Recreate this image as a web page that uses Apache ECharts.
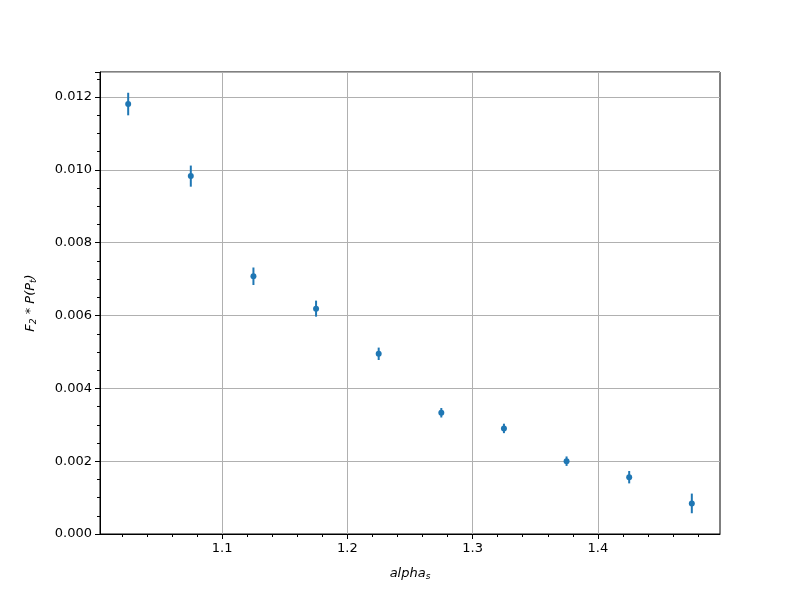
<!DOCTYPE html>
<html><head><meta charset="utf-8">
<script src="https://cdn.jsdelivr.net/npm/echarts@6/dist/echarts.min.js"></script>
<style>html,body{margin:0;padding:0;background:#fff}#c{width:800px;height:600px}</style>
</head><body><div id="c"></div>
<script>
const xValues = [1.025, 1.075, 1.125, 1.175, 1.225, 1.275, 1.325, 1.375, 1.425, 1.475];
const yValues = [0.01181, 0.00983, 0.00708, 0.00619, 0.00495, 0.00333, 0.00290, 0.00200, 0.00156, 0.00084];
const yErrors = [0.00031, 0.00029, 0.00024, 0.00022, 0.00017, 0.00013, 0.00013, 0.00013, 0.00017, 0.00027];
const xMajorTicks = [1.1, 1.2, 1.3, 1.4];
const xMinorTicks = [1.02, 1.04, 1.06, 1.08, 1.12, 1.14, 1.16, 1.18, 1.22, 1.24, 1.26, 1.28, 1.32, 1.34, 1.36, 1.38, 1.42, 1.44, 1.46, 1.48];
const xMin = 1.0025, xMax = 1.4975;
const yMin = 0, yMax = 0.01269;

const pts = xValues.map((x, i) => [x, yValues[i], yErrors[i]]);
const font = 'DejaVu Sans';
const chart = echarts.init(document.getElementById('c'));
chart.setOption({
  animation: false,
  grid: {left: 100, right: 80, top: 72, bottom: 66, show: true, borderColor: '#000', borderWidth: 1, backgroundColor: 'transparent'},
  xAxis: [{
    type: 'value', min: xMin, max: xMax,
    name: '{i|alpha}{s|s}', nameLocation: 'middle', nameGap: 32,
    nameTextStyle: {rich: {i: {fontFamily: font, fontStyle: 'italic', fontSize: 13, color: '#000'}, s: {fontFamily: font, fontStyle: 'italic', fontSize: 9, color: '#000', verticalAlign: 'bottom', padding: [6, 0, 0, 0]}}},
    axisLine: {show: true, lineStyle: {color: '#000', width: 1}},
    axisTick: {show: true, length: 5, customValues: xMajorTicks, lineStyle: {color: '#000'}},
    axisLabel: {customValues: xMajorTicks, color: '#000', fontFamily: font, fontSize: 13, margin: 8, formatter: v => v.toFixed(1)},
    splitLine: {show: true, lineStyle: {color: '#b0b0b0', width: 1}}
  }, {
    type: 'value', min: xMin, max: xMax, position: 'bottom', offset: 0,
    axisLine: {show: false},
    axisTick: {show: true, length: 3, customValues: xMinorTicks, lineStyle: {color: '#000'}},
    axisLabel: {show: false},
    splitLine: {show: false}
  }],
  yAxis: {
    type: 'value', min: yMin, max: yMax, interval: 0.002,
    name: '{i|F}{s|2}{i| * P(P}{s|t}{i|)}', nameLocation: 'middle', nameGap: 62, nameRotate: 90,
    nameTextStyle: {rich: {i: {fontFamily: font, fontStyle: 'italic', fontSize: 13, color: '#000'}, s: {fontFamily: font, fontStyle: 'italic', fontSize: 9, color: '#000', verticalAlign: 'bottom', padding: [6, 0, 0, 0]}}},
    axisLine: {show: true, lineStyle: {color: '#000', width: 1}},
    axisTick: {show: true, length: 5, lineStyle: {color: '#000'}},
    minorTick: {show: true, splitNumber: 4, length: 3, lineStyle: {color: '#000'}},
    axisLabel: {color: '#000', fontFamily: font, fontSize: 13, margin: 8, formatter: v => v.toFixed(3), showMaxLabel: false},
    splitLine: {show: true, lineStyle: {color: '#b0b0b0', width: 1}}
  },
  series: [{
    type: 'custom', xAxisIndex: 0,
    data: pts,
    renderItem: (params, api) => {
      const x = api.value(0), y = api.value(1), e = api.value(2);
      const p1 = api.coord([x, y - e]), p2 = api.coord([x, y + e]);
      return {type: 'line', shape: {x1: p1[0], y1: p1[1], x2: p2[0], y2: p2[1]}, style: {stroke: '#1f77b4', lineWidth: 2}};
    },
    z: 2
  }, {
    type: 'scatter', xAxisIndex: 0,
    data: pts.map(p => [p[0], p[1]]),
    symbol: 'circle', symbolSize: 6,
    itemStyle: {color: '#1f77b4', opacity: 1},
    z: 3
  }]
});
</script></body></html>
